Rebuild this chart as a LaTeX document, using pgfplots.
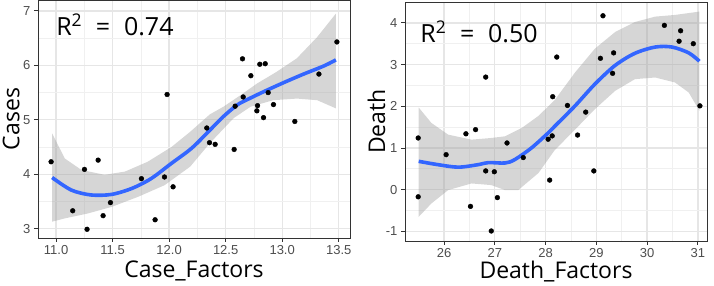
\documentclass[border=0pt]{standalone}
\usepackage{fontspec}
\setmainfont{Open Sans}
\newfontfamily\tickfont{Liberation Sans}
\usepackage{pgfplots}
\pgfplotsset{compat=1.18}
\definecolor{gridmaj}{HTML}{E6E6E6}
\definecolor{gridmin}{HTML}{F0F0F0}
\definecolor{border}{HTML}{333333}
\definecolor{ticklab}{HTML}{4D4D4D}
\definecolor{smoothc}{HTML}{3366FF}
\definecolor{bandc}{HTML}{999999}
\pgfplotsset{ggstyle/.style={
  scale only axis,
  axis line style={border, line width=0.9pt},
  grid=both,
  major grid style={gridmaj, line width=1.3pt},
  minor grid style={gridmin, line width=0.7pt},
  minor x tick num=1, minor y tick num=1,
  tick style={border, line width=0.8pt},
  major tick length=4pt, minor tick length=0pt,
  tick align=outside, tick pos=left,
  ticklabel style={font=\tickfont\fontsize{13}{13}\selectfont, text=ticklab},
  /pgf/number format/assume math mode=true,
}}
\newcommand{\rsq}[1]{R\textsuperscript{2}\hspace{0.55em}=\hspace{0.55em}#1}
\begin{document}
\begin{tikzpicture}
\useasboundingbox (0,0) rectangle (714pt,286pt);
% ---------------- left panel
\begin{axis}[ggstyle,
  at={(38pt,48pt)}, anchor=south west, width=312pt, height=238pt,
  xmin=10.84, xmax=13.60, ymin=2.83, ymax=7.20,
  xtick={11,11.5,12,12.5,13,13.5},
  ytick={3,4,5,6,7},
  xticklabel style={/pgf/number format/.cd, fixed, fixed zerofill, precision=1},
  xlabel={Case\_Factors}, ylabel={Cases},
  every axis x label/.style={at={(axis description cs:0.5,-0.168)}, anchor=base, font=\fontsize{23}{23}\selectfont},
  every axis y label/.style={at={(axis description cs:-0.048,0.5)}, rotate=90, anchor=south, font=\fontsize{23}{23}\selectfont},
]
\addplot[only marks, mark=*, mark size=2.4pt, black] coordinates {
(10.956,4.23) (11.147,3.33) (11.251,4.09) (11.274,2.99) (11.372,4.26)
(11.416,3.24) (11.481,3.48) (11.755,3.92) (11.876,3.165) (11.959,3.95)
(11.982,5.465) (12.035,3.77) (12.333,4.85) (12.357,4.58) (12.407,4.55)
(12.575,4.456) (12.584,5.25) (12.649,6.12) (12.655,5.42) (12.723,5.81)
(12.776,5.165) (12.782,5.26) (12.802,6.02) (12.835,5.04) (12.85,6.03)
(12.876,5.50) (12.923,5.28) (13.112,4.97) (13.325,5.84) (13.484,6.43)
};
\addplot[fill=bandc, fill opacity=0.4, draw=none] coordinates {
(10.965,4.75) (11.077,4.29) (11.224,4.08) (11.43,3.99) (11.61,4.05)
(11.81,4.23) (12.02,4.50) (12.186,4.78) (12.36,5.10) (12.48,5.24)
(12.63,5.45) (12.78,5.67) (12.95,5.88) (13.13,6.13) (13.31,6.52) (13.475,6.95)
(13.475,5.21) (13.31,5.36) (13.13,5.39) (12.92,5.36) (12.72,5.24)
(12.57,5.03) (12.36,4.57) (12.186,4.14) (11.96,3.80) (11.73,3.59)
(11.49,3.40) (11.28,3.28) (11.077,3.19) (10.965,3.13)
} -- cycle;
\addplot[smoothc, line width=3.6pt, smooth] coordinates {
(10.965,3.94) (11.135,3.71) (11.31,3.62) (11.49,3.63) (11.67,3.74)
(11.84,3.92) (12.02,4.20) (12.20,4.48) (12.36,4.81) (12.48,5.06)
(12.60,5.27) (12.69,5.37) (12.83,5.51) (13.01,5.68) (13.19,5.84)
(13.37,5.99) (13.475,6.10)
};
\node[anchor=base west, font=\fontsize{25}{25}\selectfont, inner sep=0pt] at (axis cs:11.0,6.54) {\rsq{0.74}};
\end{axis}
% ---------------- right panel
\begin{axis}[ggstyle,
  at={(405pt,45pt)}, anchor=south west, width=302pt, height=239pt,
  xmin=25.23, xmax=31.18, ymin=-1.23, ymax=4.5,
  xtick={26,27,28,29,30,31},
  ytick={-1,0,1,2,3,4},
  xlabel={Death\_Factors}, ylabel={Death},
  every axis x label/.style={at={(axis description cs:0.5,-0.155)}, anchor=base, font=\fontsize{23}{23}\selectfont},
  every axis y label/.style={at={(axis description cs:-0.053,0.5)}, rotate=90, anchor=south, font=\fontsize{23}{23}\selectfont},
]
\addplot[only marks, mark=*, mark size=2.4pt, black] coordinates {
(25.49,1.24) (25.49,-0.17) (26.04,0.84) (26.43,1.34) (26.52,-0.40)
(26.62,1.44) (26.82,2.70) (26.82,0.45) (26.93,-0.99) (26.99,0.43)
(27.05,-0.19) (27.24,1.12) (27.56,0.77) (28.05,1.21) (28.08,0.23)
(28.13,1.29) (28.14,2.23) (28.22,3.18) (28.43,2.02) (28.63,1.31)
(28.79,1.86) (28.95,0.45) (29.08,3.15) (29.13,4.17) (29.32,2.79)
(29.34,3.28) (30.34,3.94) (30.63,3.56) (30.66,3.81) (30.91,3.50)
(31.04,2.01)
};
\addplot[fill=bandc, fill opacity=0.4, draw=none] coordinates {
(25.5,1.97) (25.75,1.60) (26.08,1.32) (26.54,1.20) (26.93,1.24)
(27.2,1.28) (27.53,1.48) (27.86,1.77) (28.18,2.15) (28.58,2.81)
(28.97,3.38) (29.37,3.78) (29.76,4.02) (30.16,4.15) (30.55,4.19) (31.03,4.27)
(31.03,1.89) (30.82,2.33) (30.55,2.57) (30.16,2.69) (29.76,2.65)
(29.37,2.37) (28.97,1.93) (28.58,1.44) (28.18,0.95) (27.86,0.40)
(27.46,-0.01) (27.2,-0.01) (26.93,0.11) (26.54,0.15) (26.08,-0.01)
(25.75,-0.33) (25.5,-0.65)
} -- cycle;
\addplot[smoothc, line width=3.6pt, smooth] coordinates {
(25.5,0.68) (25.88,0.60) (26.28,0.54) (26.67,0.60) (26.87,0.65)
(27.2,0.64) (27.39,0.72) (27.72,1.00) (28.05,1.36) (28.18,1.52)
(28.58,2.01) (28.97,2.53) (29.37,2.98) (29.76,3.27) (30.16,3.42)
(30.49,3.42) (30.82,3.28) (31.03,3.08)
};
\node[anchor=base west, font=\fontsize{25}{25}\selectfont, inner sep=0pt] at (axis cs:25.53,3.52) {\rsq{0.50}};
\end{axis}
\end{tikzpicture}
\end{document}
